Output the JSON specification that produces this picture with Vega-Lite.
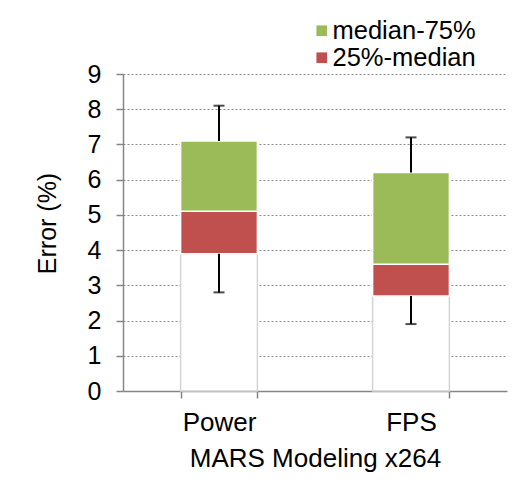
{
  "$schema": "https://vega.github.io/schema/vega-lite/v6.json",
  "width": 384,
  "height": 317,
  "autosize": {"type": "none"},
  "padding": {"left": 123, "top": 74, "right": 8, "bottom": 92},
  "background": "white",
  "config": {
    "font": "Liberation Sans",
    "view": {"stroke": null},
    "axis": {
      "labelFont": "Liberation Sans",
      "titleFont": "Liberation Sans",
      "labelFontSize": 26,
      "titleFontSize": 26,
      "labelColor": "black",
      "titleColor": "black",
      "titleFontWeight": "normal",
      "domainColor": "#868686",
      "domainWidth": 1.5,
      "tickColor": "#868686",
      "tickWidth": 1.5,
      "tickSize": 7
    },
    "axisY": {
      "tickCount": 9,
      "labelOverlap": false,
      "grid": true,
      "gridColor": "#8c8c8c",
      "gridDash": [2, 2],
      "gridWidth": 1,
      "labelPadding": 15,
      "titlePadding": 27,
      "titleY": 149,
      "labelFontSize": 25,
      "titleFontSize": 25
    },
    "legend": {
      "labelFont": "Liberation Sans",
      "labelFontSize": 25.5,
      "labelColor": "black"
    }
  },
  "data": {
    "values": [
      {"task": "Power", "min": 2.8, "q1": 3.9, "median": 5.1, "q3": 7.1, "max": 8.1},
      {"task": "FPS", "min": 1.9, "q1": 2.7, "median": 3.6, "q3": 6.2, "max": 7.2}
    ]
  },
  "encoding": {
    "x": {
      "field": "task",
      "type": "nominal",
      "sort": ["Power", "FPS"],
      "scale": {"paddingInner": 0.6, "paddingOuter": 0.3},
      "axis": {
        "title": "MARS Modeling x264",
        "labelAngle": 0,
        "tickBand": "extent",
        "labelPadding": 11,
        "titlePadding": 10,
        "grid": false
      }
    }
  },
  "layer": [
    {
      "mark": {"type": "bar", "fill": "white", "stroke": "#d4d4d4", "strokeWidth": 1.5},
      "encoding": {
        "y": {
          "field": "q1",
          "type": "quantitative",
          "scale": {"domain": [0, 9], "nice": false},
          "axis": {"title": "Error (%)"}
        }
      }
    },
    {
      "mark": {"type": "bar", "stroke": "white", "strokeWidth": 1.5},
      "encoding": {
        "y": {"field": "q1", "type": "quantitative"},
        "y2": {"field": "median"},
        "color": {"datum": "25%-median", "type": "nominal"}
      }
    },
    {
      "mark": {"type": "bar", "stroke": "white", "strokeWidth": 1.5},
      "encoding": {
        "y": {"field": "median", "type": "quantitative"},
        "y2": {"field": "q3"},
        "color": {
          "datum": "median-75%",
          "type": "nominal",
          "scale": {
            "domain": ["median-75%", "25%-median"],
            "range": ["#9bbb59", "#c0504d"]
          },
          "legend": {
            "title": null,
            "orient": "none",
            "legendX": 186,
            "legendY": -56,
            "padding": 0,
            "symbolType": "square",
            "symbolSize": 114,
            "symbolStrokeWidth": 0,
            "symbolOpacity": 1,
            "labelOffset": -2,
            "rowPadding": 0
          }
        }
      }
    },
    {
      "mark": {"type": "rule", "color": "black", "strokeWidth": 2},
      "encoding": {
        "y": {"field": "min", "type": "quantitative"},
        "y2": {"field": "q1"}
      }
    },
    {
      "mark": {"type": "rule", "color": "black", "strokeWidth": 2},
      "encoding": {
        "y": {"field": "q3", "type": "quantitative"},
        "y2": {"field": "max"}
      }
    },
    {
      "mark": {"type": "tick", "color": "black", "size": 11, "thickness": 2},
      "encoding": {
        "y": {"field": "min", "type": "quantitative"}
      }
    },
    {
      "mark": {"type": "tick", "color": "black", "size": 11, "thickness": 2},
      "encoding": {
        "y": {"field": "max", "type": "quantitative"}
      }
    }
  ]
}
